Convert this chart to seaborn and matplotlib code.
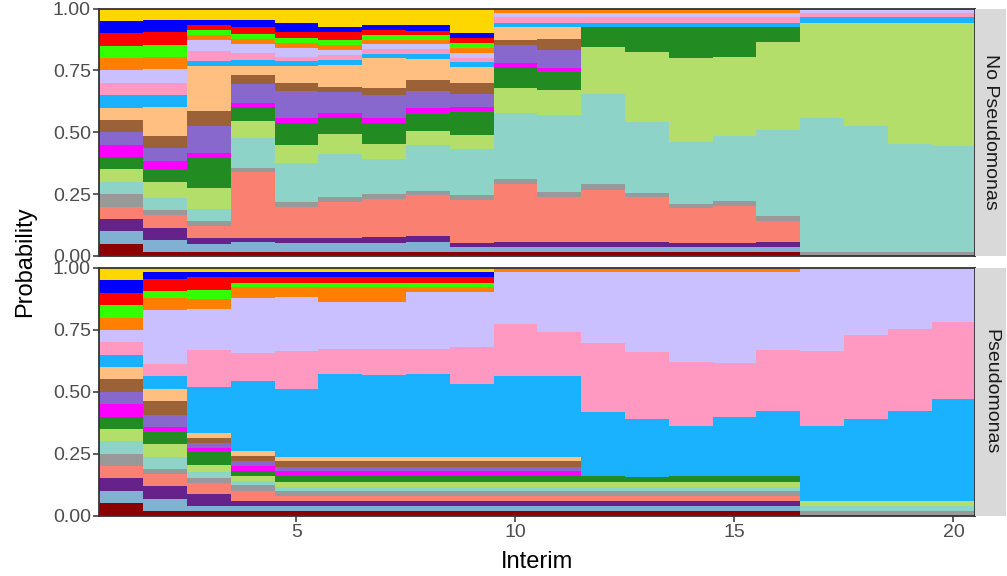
import numpy as np
import pandas as pd
import matplotlib
matplotlib.use("Agg")
import matplotlib.pyplot as plt
import seaborn as sns

# ---------------- data ----------------
interims = list(range(1, 21))

# arms listed bottom -> top of the stack
arms = ["A01", "A02", "A03", "A04", "A05", "A06", "A07", "A08", "A09", "A10",
        "A11", "A12", "A13", "A14", "A15", "A16", "A17", "A18", "A19", "A20"]
arm_colors = ["#8B0000", "#80B1D3", "#66228A", "#FA8072", "#999999", "#8DD3C7",
              "#B3DE69", "#228B22", "#FF00FF", "#8968CD", "#9A6236", "#FFBF80",
              "#1AB2FF", "#FF99C2", "#CBC0FF", "#FF8000", "#33FF00", "#FF0000",
              "#0000FF", "#FFD700"]

facets = ["No Pseudomonas", "Pseudomonas"]

# probabilities per interim (rows), arms bottom -> top (columns)
no_pseudo = [
    [0.05] * 20,
    [0.015, 0.05, 0.049, 0.053, 0.02, 0.049, 0.061, 0.049, 0.037, 0.053, 0.049, 0.115, 0.051, 0.049, 0.053, 0.05, 0.047, 0.053, 0.049, 0.047],
    [0.015, 0.034, 0.023, 0.049, 0.02, 0.049, 0.085, 0.118, 0.02, 0.11, 0.061, 0.179, 0.02, 0.041, 0.045, 0.02, 0.02, 0.02, 0.02, 0.047],
    [0.018, 0.037, 0.016, 0.268, 0.016, 0.122, 0.069, 0.053, 0.016, 0.077, 0.037, 0.037, 0.024, 0.028, 0.037, 0.02, 0.02, 0.028, 0.028, 0.047],
    [0.018, 0.033, 0.02, 0.126, 0.02, 0.159, 0.073, 0.089, 0.02, 0.11, 0.033, 0.065, 0.02, 0.02, 0.033, 0.02, 0.02, 0.028, 0.033, 0.06],
    [0.018, 0.033, 0.02, 0.146, 0.02, 0.175, 0.081, 0.065, 0.02, 0.085, 0.02, 0.089, 0.02, 0.02, 0.02, 0.02, 0.02, 0.033, 0.02, 0.073],
    [0.018, 0.033, 0.024, 0.154, 0.02, 0.142, 0.061, 0.085, 0.02, 0.093, 0.028, 0.118, 0.016, 0.02, 0.024, 0.016, 0.02, 0.02, 0.02, 0.065],
    [0.018, 0.037, 0.024, 0.167, 0.016, 0.187, 0.057, 0.069, 0.024, 0.069, 0.041, 0.085, 0.02, 0.02, 0.02, 0.016, 0.024, 0.016, 0.024, 0.065],
    [0.018, 0.02, 0.016, 0.171, 0.02, 0.187, 0.057, 0.093, 0.02, 0.053, 0.045, 0.061, 0.024, 0.016, 0.02, 0.02, 0.02, 0.02, 0.02, 0.098],
    [0.018, 0.02, 0.02, 0.232, 0.02, 0.268, 0.102, 0.081, 0.02, 0.069, 0.02, 0.053, 0.016, 0.024, 0.016, 0.02, 0, 0, 0, 0],
    [0.018, 0.02, 0.02, 0.179, 0.02, 0.313, 0.102, 0.073, 0.016, 0.073, 0.041, 0.049, 0.016, 0.024, 0.016, 0.02, 0, 0, 0, 0],
    [0.018, 0.02, 0.02, 0.207, 0.024, 0.366, 0.187, 0.081, 0, 0, 0, 0, 0.016, 0.024, 0.016, 0.02, 0, 0, 0, 0],
    [0.018, 0.02, 0.02, 0.179, 0.016, 0.289, 0.285, 0.098, 0, 0, 0, 0, 0.016, 0.024, 0.016, 0.02, 0, 0, 0, 0],
    [0.018, 0.02, 0.016, 0.138, 0.016, 0.252, 0.341, 0.122, 0, 0, 0, 0, 0.016, 0.024, 0.016, 0.02, 0, 0, 0, 0],
    [0.018, 0.02, 0.016, 0.146, 0.02, 0.264, 0.321, 0.118, 0, 0, 0, 0, 0.016, 0.024, 0.016, 0.02, 0, 0, 0, 0],
    [0.018, 0.02, 0.02, 0.085, 0.02, 0.346, 0.354, 0.061, 0, 0, 0, 0, 0.016, 0.024, 0.016, 0.02, 0, 0, 0, 0],
    [0, 0, 0, 0, 0.018, 0.541, 0.382, 0, 0, 0, 0, 0, 0.024, 0.016, 0.02, 0, 0, 0, 0, 0],
    [0, 0, 0, 0, 0.018, 0.508, 0.415, 0, 0, 0, 0, 0, 0.024, 0.016, 0.02, 0, 0, 0, 0, 0],
    [0, 0, 0, 0, 0.018, 0.435, 0.488, 0, 0, 0, 0, 0, 0.024, 0.016, 0.02, 0, 0, 0, 0, 0],
    [0, 0, 0, 0, 0.018, 0.427, 0.496, 0, 0, 0, 0, 0, 0.024, 0.016, 0.02, 0, 0, 0, 0, 0],
]

pseudo = [
    [0.05] * 20,
    [0.018, 0.049, 0.053, 0.049, 0.02, 0.049, 0.053, 0.049, 0.02, 0.049, 0.053, 0.049, 0.053, 0.049, 0.22, 0.049, 0.028, 0.049, 0.028, 0.016],
    [0.018, 0.02, 0.049, 0.045, 0.02, 0.024, 0.028, 0.053, 0.016, 0.02, 0.02, 0.02, 0.187, 0.15, 0.163, 0.041, 0.037, 0.053, 0.02, 0.016],
    [0.018, 0.02, 0.02, 0.041, 0.024, 0.016, 0.02, 0.02, 0.02, 0.02, 0.02, 0.02, 0.285, 0.11, 0.224, 0.045, 0.016, 0.024, 0.02, 0.016],
    [0.018, 0.02, 0.02, 0.02, 0.02, 0.016, 0.02, 0.024, 0.02, 0.016, 0.024, 0.016, 0.276, 0.154, 0.215, 0.041, 0.016, 0.024, 0.02, 0.016],
    [0.018, 0.02, 0.02, 0.02, 0.02, 0.016, 0.02, 0.024, 0.02, 0.016, 0.024, 0.016, 0.337, 0.098, 0.191, 0.061, 0.016, 0.024, 0.02, 0.016],
    [0.018, 0.02, 0.02, 0.02, 0.02, 0.016, 0.02, 0.024, 0.02, 0.016, 0.024, 0.016, 0.333, 0.102, 0.191, 0.061, 0.016, 0.024, 0.02, 0.016],
    [0.018, 0.02, 0.02, 0.02, 0.02, 0.016, 0.02, 0.024, 0.02, 0.016, 0.024, 0.016, 0.337, 0.098, 0.232, 0.02, 0.016, 0.024, 0.02, 0.016],
    [0.018, 0.02, 0.02, 0.02, 0.02, 0.016, 0.02, 0.024, 0.02, 0.016, 0.024, 0.016, 0.297, 0.146, 0.224, 0.02, 0.016, 0.024, 0.02, 0.016],
    [0.018, 0.02, 0.02, 0.02, 0.02, 0.016, 0.02, 0.024, 0.02, 0.016, 0.024, 0.016, 0.329, 0.207, 0.211, 0.016, 0, 0, 0, 0],
    [0.018, 0.02, 0.02, 0.02, 0.02, 0.016, 0.02, 0.024, 0.02, 0.016, 0.024, 0.016, 0.329, 0.175, 0.244, 0.016, 0, 0, 0, 0],
    [0.018, 0.02, 0.02, 0.02, 0.02, 0.016, 0.02, 0.024, 0, 0, 0, 0, 0.26, 0.28, 0.285, 0.016, 0, 0, 0, 0],
    [0.018, 0.02, 0.02, 0.02, 0.02, 0.016, 0.02, 0.02, 0, 0, 0, 0, 0.236, 0.268, 0.325, 0.016, 0, 0, 0, 0],
    [0.018, 0.02, 0.02, 0.02, 0.02, 0.016, 0.02, 0.024, 0, 0, 0, 0, 0.203, 0.26, 0.362, 0.016, 0, 0, 0, 0],
    [0.018, 0.02, 0.02, 0.02, 0.02, 0.016, 0.02, 0.024, 0, 0, 0, 0, 0.24, 0.22, 0.366, 0.016, 0, 0, 0, 0],
    [0.018, 0.02, 0.02, 0.02, 0.02, 0.016, 0.02, 0.024, 0, 0, 0, 0, 0.264, 0.248, 0.313, 0.016, 0, 0, 0, 0],
    [0, 0, 0, 0, 0.018, 0.02, 0.02, 0, 0, 0, 0, 0, 0.305, 0.301, 0.337, 0, 0, 0, 0, 0],
    [0, 0, 0, 0, 0.018, 0.02, 0.02, 0, 0, 0, 0, 0, 0.333, 0.337, 0.272, 0, 0, 0, 0, 0],
    [0, 0, 0, 0, 0.018, 0.02, 0.02, 0, 0, 0, 0, 0, 0.366, 0.329, 0.248, 0, 0, 0, 0, 0],
    [0, 0, 0, 0, 0.018, 0.02, 0.02, 0, 0, 0, 0, 0, 0.415, 0.309, 0.22, 0, 0, 0, 0, 0],
]

y_ticks = [0.0, 0.25, 0.5, 0.75, 1.0]
y_tick_labels = ["0.00", "0.25", "0.50", "0.75", "1.00"]
x_ticks = [5, 10, 15, 20]


def to_long(table):
    arr = np.asarray(table, dtype=float)
    arr = arr / arr.sum(axis=1, keepdims=True)
    rows = []
    for i, itv in enumerate(interims):
        for j, arm in enumerate(arms):
            rows.append((itv, arm, arr[i, j]))
    return pd.DataFrame(rows, columns=["Interim", "Arm", "Probability"])


# ---------------- style ----------------
sns.set_theme(style="white")
plt.rcParams["font.family"] = ["Liberation Sans", "DejaVu Sans"]

W, H = 1007, 576
fig = plt.figure(figsize=(W / 100, H / 100), dpi=100)

left_px, right_px, strip_px = 99.3, 975.3, 1006
panels_px = [(8.5, 256.0), (268.0, 515.5)]

palette = dict(zip(arms, arm_colors))
border = "#333333"

for k, (table, label) in enumerate(zip([no_pseudo, pseudo], facets)):
    top_px, bot_px = panels_px[k]
    ax = fig.add_axes([left_px / W, 1 - bot_px / H,
                       (right_px - left_px) / W, (bot_px - top_px) / H])
    df = to_long(table)
    sns.histplot(data=df, x="Interim", weights="Probability", hue="Arm",
                 hue_order=arms[::-1], palette=palette, multiple="stack",
                 discrete=True, shrink=1, alpha=1, linewidth=0,
                 legend=False, ax=ax)
    ax.set_xlim(0.5, 20.5)
    ax.set_ylim(0, 1)
    ax.set_yticks(y_ticks)
    ax.set_yticklabels(y_tick_labels)
    ax.set_xlabel("")
    ax.set_ylabel("")
    ax.set_facecolor("white")
    for s in ax.spines.values():
        s.set_color(border)
        s.set_linewidth(1.3)
        s.set_zorder(5)
    ax.tick_params(axis="y", left=True, length=4, width=1.1, color=border,
                   labelsize=14, labelcolor="#4D4D4D", pad=2)
    if k == 1:
        ax.set_xticks(x_ticks)
        ax.tick_params(axis="x", bottom=True, length=4, width=1.1,
                       color=border, labelsize=14, labelcolor="#4D4D4D", pad=2)
    else:
        ax.set_xticks([])

    # strip
    sax = fig.add_axes([right_px / W, 1 - bot_px / H,
                        (strip_px - right_px) / W, (bot_px - top_px) / H])
    sax.set_facecolor("#D9D9D9")
    sax.set_xticks([])
    sax.set_yticks([])
    for s in sax.spines.values():
        s.set_visible(False)
    sax.text(0.5, 0.5, label, rotation=270, ha="center", va="center",
             fontsize=14, color="#1A1A1A", transform=sax.transAxes)

fig.text(25 / W, 1 - 262 / H, "Probability", rotation=90, ha="center",
         va="center", fontsize=17, color="black")
fig.text(537 / W, 1 - 562 / H, "Interim", ha="center", va="center",
         fontsize=17, color="black")

fig.savefig("out.png", dpi=100)
